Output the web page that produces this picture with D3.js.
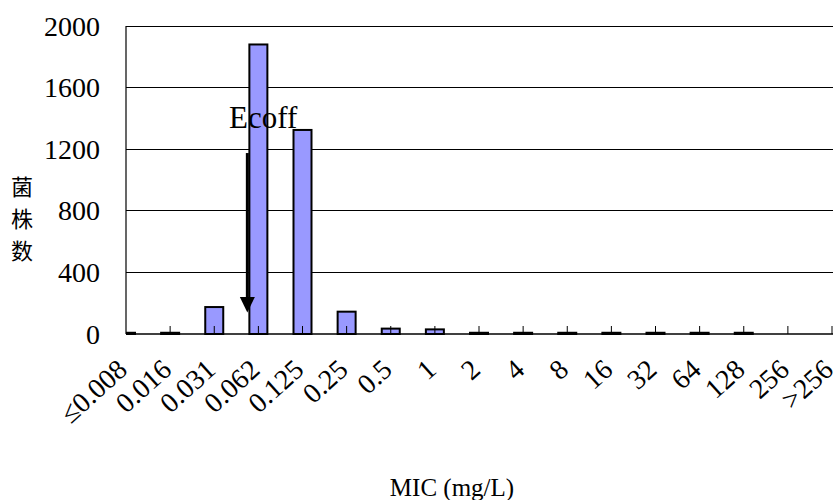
<!DOCTYPE html>
<html>
<head>
<meta charset="utf-8">
<script src="https://cdn.jsdelivr.net/npm/d3@7"></script>
<style>
  html, body { margin: 0; padding: 0; background: #fff; }
  svg { display: block; }
  text { font-family: "Liberation Serif", "Times New Roman", serif; fill: #000; }
</style>
</head>
<body>
<svg id="chart" width="839" height="500"></svg>
<script>
const categories = ["≤0.008","0.016","0.031","0.062","0.125","0.25","0.5","1","2","4","8","16","32","64","128","256",">256"];
const counts = [8, 8, 175, 1880, 1325, 145, 35, 30, 8, 8, 8, 8, 8, 8, 8, 0, 0];
const yTicks = [0, 400, 800, 1200, 1600, 2000];
const yTitle = ["菌", "株", "数"];
const xTitle = "MIC (mg/L)";
const annotation = "Ecoff";

(function () {
const svg = d3.select("#chart");
const pL = 126, pR = 832, pT = 26, pB = 334;

const x = d3.scalePoint().domain(categories).range([pL, pR]);
const y = d3.scaleLinear().domain([0, 2000]).range([pB, pT]);
const barW = 18;

svg.append("defs").append("clipPath").attr("id", "plotclip")
  .append("rect").attr("x", pL).attr("y", pT - 5).attr("width", pR - pL + 2).attr("height", pB - pT + 10);

// gridlines
svg.append("g").selectAll("line").data(yTicks.filter(d => d > 0)).join("line")
  .attr("x1", pL).attr("x2", pR + 1)
  .attr("y1", d => y(d)).attr("y2", d => y(d))
  .attr("stroke", "#000").attr("stroke-width", 1).attr("shape-rendering", "crispEdges");

// y tick labels
svg.append("g").selectAll("text").data(yTicks).join("text")
  .attr("x", 100).attr("y", d => y(d))
  .attr("text-anchor", "end").attr("dominant-baseline", "central")
  .style("font-size", "28px")
  .text(d => d);

// bars
svg.append("g").attr("clip-path", "url(#plotclip)").selectAll("rect")
  .data(categories.map((c, i) => ({c, v: counts[i]})).filter(d => d.v > 0)).join("rect")
  .attr("x", d => x(d.c) - barW / 2)
  .attr("width", barW)
  .attr("y", d => y(d.v))
  .attr("height", d => pB - y(d.v))
  .attr("fill", "#9999FF").attr("stroke", "#000").attr("stroke-width", 2);

// axes lines
svg.append("line").attr("x1", pL).attr("x2", pL).attr("y1", pT).attr("y2", pB)
  .attr("stroke", "#000").attr("stroke-width", 1.2);
svg.append("line").attr("x1", pL).attr("x2", pR + 1).attr("y1", pB).attr("y2", pB)
  .attr("stroke", "#000").attr("stroke-width", 1.5);

// ticks
svg.append("g").selectAll("line").data(categories.slice(1)).join("line")
  .attr("x1", d => x(d)).attr("x2", d => x(d))
  .attr("y1", pB).attr("y2", pB - 8)
  .attr("stroke", "#000").attr("stroke-width", 1);

// x tick labels
svg.append("g").selectAll("text").data(categories).join("text")
  .attr("transform", d => `translate(${x(d) + 3},${372}) rotate(-42)`)
  .attr("text-anchor", "end")
  .style("font-size", "28px")
  .text(d => d);

// y title
svg.append("g").selectAll("text").data(yTitle).join("text")
  .attr("x", 22).attr("y", (d, i) => 185 + i * 32)
  .attr("text-anchor", "middle").attr("dominant-baseline", "central")
  .style("font-family", "'Noto Sans CJK SC', sans-serif")
  .style("font-size", "22px")
  .text(d => d);

// x title
svg.append("text").attr("x", 452).attr("y", 496)
  .attr("text-anchor", "middle").style("font-size", "25px")
  .text(xTitle);

// Ecoff annotation
const ax = x("0.062") - 0.25 * x.step();
svg.append("text").attr("x", 229).attr("y", 128).style("font-size", "31px").text(annotation);
svg.append("line").attr("x1", ax).attr("x2", ax).attr("y1", y(1175)).attr("y2", y(230))
  .attr("stroke", "#000").attr("stroke-width", 3);
svg.append("path")
  .attr("d", `M${ax - 7.5},${y(240)} L${ax + 7.5},${y(240)} L${ax},${y(140)} Z`)
  .attr("fill", "#000");
})();
</script>
</body>
</html>
